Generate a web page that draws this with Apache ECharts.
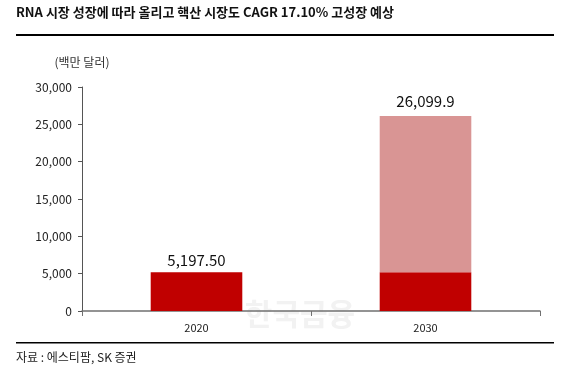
<!DOCTYPE html>
<html>
<head>
<meta charset="utf-8">
<script src="https://cdn.jsdelivr.net/npm/echarts@6/dist/echarts.min.js"></script>
<style>
  html, body { margin: 0; padding: 0; background: #fff; }
  #chart { width: 573px; height: 377px; }
</style>
</head>
<body>
<div id="chart"></div>
<script>
var years = ['2020', '2030'];
var baseValues = [5197.5, 5197.5];
var totalValues = [5197.5, 26099.9];
var valueLabels = ['5,197.50', '26,099.9'];
var yTicks = [0, 5000, 10000, 15000, 20000, 25000, 30000];

// 2030 막대의 연한 부분 = 전체 - 2020 수준
var growthValues = totalValues.map(function (v, i) {
    return i === 0 ? '-' : +(v - baseValues[i]).toFixed(1);
});

var font = '"Noto Sans CJK KR", "Noto Sans", sans-serif';

var myChart = echarts.init(document.getElementById('chart'));
myChart.setOption({
    animation: false,
    textStyle: { fontFamily: font },
    grid: { left: 82, right: 33, top: 87, bottom: 66 },
    graphic: [
        { type: 'text', left: 16, top: 6,
          style: { text: 'RNA 시장 성장에 따라 올리고 핵산 시장도 CAGR 17.10% 고성장 예상',
                   font: 'bold 13px ' + font, fill: '#111' } },
        { type: 'rect', shape: { x: 16, y: 34, width: 538, height: 2 }, style: { fill: '#000' } },
        { type: 'text', x: 82, y: 62,
          style: { text: '(백만 달러)', font: '12px ' + font, fill: '#333',
                   textAlign: 'center', textVerticalAlign: 'middle' } },
        { type: 'text', x: 300, y: 314, z: -1,
          style: { text: '한국금융', font: 'bold 30px ' + font, fill: '#f2f2f2',
                   textAlign: 'center', textVerticalAlign: 'middle' } },
        { type: 'rect', shape: { x: 16, y: 342, width: 538, height: 1.5 }, style: { fill: '#000' } },
        { type: 'text', left: 16, top: 351,
          style: { text: '자료 : 에스티팜, SK 증권', font: '12px ' + font, fill: '#222' } }
    ],
    xAxis: {
        type: 'category',
        data: years,
        axisLine: { lineStyle: { color: '#707070', width: 1.5 } },
        axisTick: { show: true, length: 5, lineStyle: { color: '#707070' } },
        axisLabel: { color: '#222', fontSize: 11, margin: 11 }
    },
    yAxis: {
        type: 'value',
        min: yTicks[0],
        max: yTicks[yTicks.length - 1],
        interval: yTicks[1] - yTicks[0],
        splitLine: { show: false },
        axisLine: { show: true, lineStyle: { color: '#555' } },
        axisTick: { show: true, length: 4, lineStyle: { color: '#555' } },
        axisLabel: {
            color: '#222', fontSize: 12, margin: 10,
            formatter: function (v) { return v.toLocaleString('en-US'); }
        }
    },
    series: [
        {
            type: 'bar',
            stack: 'total',
            barWidth: '40%',
            itemStyle: { color: '#C00000' },
            data: baseValues.map(function (v, i) {
                return i === 0
                    ? { value: v, label: { show: true, position: 'top', distance: 4,
                        formatter: valueLabels[i], fontSize: 15, color: '#111' } }
                    : v;
            })
        },
        {
            type: 'bar',
            stack: 'total',
            barWidth: '40%',
            itemStyle: { color: '#D99594' },
            data: growthValues.map(function (v, i) {
                return v === '-' ? v
                    : { value: v, label: { show: true, position: 'top', distance: 7,
                        formatter: valueLabels[i], fontSize: 15, color: '#111' } };
            })
        }
    ]
});
</script>
</body>
</html>
